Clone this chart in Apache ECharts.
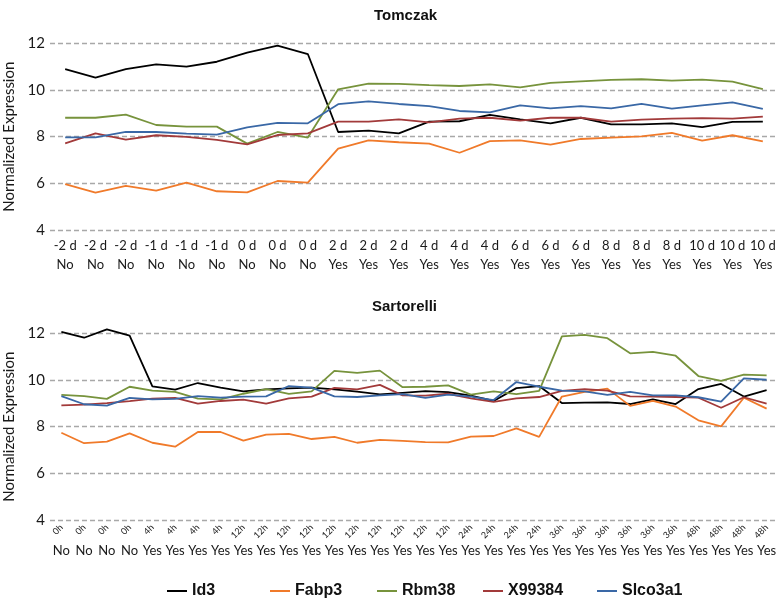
<!DOCTYPE html>
<html><head><meta charset="utf-8">
<script src="https://cdn.jsdelivr.net/npm/echarts@6/dist/echarts.min.js"></script>
<style>html,body{margin:0;padding:0;background:#fff}#c{width:778px;height:601px}</style>
</head><body><div id="c"></div>
<script>
const genes = ['Id3', 'Fabp3', 'Rbm38', 'X99384', 'Slco3a1'];
const geneColors = ['#000000', '#F07A2A', '#77933C', '#A23A3A', '#3A68A6'];

const tomczakTime = ['-2 d','-2 d','-2 d','-1 d','-1 d','-1 d','0 d','0 d','0 d','2 d','2 d','2 d','4 d','4 d','4 d','6 d','6 d','6 d','8 d','8 d','8 d','10 d','10 d','10 d'];
const tomczakTreated = ['No','No','No','No','No','No','No','No','No','Yes','Yes','Yes','Yes','Yes','Yes','Yes','Yes','Yes','Yes','Yes','Yes','Yes','Yes','Yes'];
const tomczakId3 = [10.89,10.53,10.89,11.10,11.00,11.21,11.60,11.90,11.54,8.20,8.26,8.14,8.64,8.66,8.93,8.74,8.57,8.81,8.53,8.53,8.57,8.41,8.63,8.64];
const tomczakFabp3 = [5.97,5.60,5.89,5.69,6.03,5.66,5.61,6.10,6.03,7.49,7.84,7.76,7.70,7.31,7.81,7.84,7.66,7.90,7.96,8.01,8.16,7.83,8.06,7.80];
const tomczakRbm38 = [8.81,8.81,8.94,8.50,8.43,8.43,7.70,8.20,7.96,10.03,10.27,10.26,10.21,10.17,10.24,10.11,10.30,10.37,10.43,10.46,10.40,10.44,10.36,10.04];
const tomczakX99384 = [7.71,8.14,7.87,8.06,7.99,7.86,7.67,8.07,8.14,8.64,8.64,8.74,8.61,8.77,8.81,8.69,8.81,8.81,8.64,8.73,8.77,8.79,8.77,8.86];
const tomczakSlco3a1 = [7.97,7.97,8.20,8.20,8.13,8.09,8.40,8.59,8.57,9.39,9.51,9.40,9.31,9.10,9.04,9.34,9.21,9.31,9.21,9.40,9.20,9.34,9.47,9.19];

const sartorelliTime = ['0h','0h','0h','0h','4h','4h','4h','4h','12h','12h','12h','12h','12h','12h','12h','12h','12h','12h','24h','24h','24h','24h','36h','36h','36h','36h','36h','36h','48h','48h','48h','48h'];
const sartorelliTreated = ['No','No','No','No','Yes','Yes','Yes','Yes','Yes','Yes','Yes','Yes','Yes','Yes','Yes','Yes','Yes','Yes','Yes','Yes','Yes','Yes','Yes','Yes','Yes','Yes','Yes','Yes','Yes','Yes','Yes','Yes'];
const sartorelliId3 = [12.06,11.81,12.17,11.90,9.73,9.59,9.87,9.67,9.51,9.60,9.64,9.67,9.60,9.50,9.38,9.45,9.52,9.48,9.33,9.10,9.65,9.74,9.01,9.03,9.04,8.97,9.17,8.97,9.61,9.83,9.29,9.57];
const sartorelliFabp3 = [7.74,7.29,7.36,7.71,7.31,7.14,7.77,7.77,7.40,7.66,7.69,7.47,7.56,7.31,7.43,7.39,7.34,7.33,7.57,7.60,7.93,7.56,9.29,9.49,9.63,8.89,9.10,8.86,8.27,8.01,9.24,8.77];
const sartorelliRbm38 = [9.36,9.31,9.19,9.71,9.54,9.49,9.20,9.17,9.41,9.61,9.40,9.51,10.39,10.30,10.40,9.69,9.71,9.77,9.37,9.51,9.39,9.53,11.87,11.93,11.79,11.14,11.20,11.04,10.17,9.96,10.23,10.20];
const sartorelliX99384 = [8.91,8.94,9.01,9.09,9.20,9.23,8.99,9.10,9.16,8.99,9.21,9.29,9.66,9.60,9.79,9.34,9.33,9.41,9.21,9.06,9.21,9.27,9.53,9.61,9.54,9.30,9.29,9.27,9.24,8.81,9.26,8.99];
const sartorelliSlco3a1 = [9.31,8.96,8.90,9.23,9.17,9.19,9.31,9.24,9.29,9.30,9.74,9.67,9.30,9.27,9.34,9.39,9.23,9.37,9.29,9.14,9.91,9.71,9.54,9.51,9.36,9.49,9.34,9.34,9.26,9.07,10.07,10.01];

const yTicks = {min: 4, max: 12, interval: 2};
const panelTitles = ['Tomczak', 'Sartorelli'];
const yName = 'Normalized Expression';

const tomczakSeries = [tomczakId3, tomczakFabp3, tomczakRbm38, tomczakX99384, tomczakSlco3a1];
const sartorelliSeries = [sartorelliId3, sartorelliFabp3, sartorelliRbm38, sartorelliX99384, sartorelliSlco3a1];

const axisFont = 'Lato, "Open Sans", sans-serif';
const textColor = '#1a1a1a';

function yAxis(gridIndex) {
  return {
    type: 'value', gridIndex,
    min: yTicks.min, max: yTicks.max, interval: yTicks.interval,
    name: yName, nameLocation: 'middle', nameGap: 30,
    nameTextStyle: {fontFamily: axisFont, fontSize: 15, color: textColor},
    axisLine: {show: false}, axisTick: {show: false},
    axisLabel: {fontFamily: axisFont, fontSize: 15, color: textColor, margin: 5},
    splitLine: {show: true, lineStyle: {color: '#A8A8A8', width: 1.3, type: [5, 3]}}
  };
}

const series = [];
genes.forEach((g, k) => {
  series.push({name: g, type: 'line', xAxisIndex: 0, yAxisIndex: 0, data: tomczakSeries[k], clip: false,
    symbol: 'none', smooth: false, color: geneColors[k], lineStyle: {width: 1.8, color: geneColors[k]}});
});
genes.forEach((g, k) => {
  series.push({name: g, type: 'line', xAxisIndex: 1, yAxisIndex: 1, data: sartorelliSeries[k], clip: false,
    symbol: 'none', smooth: false, color: geneColors[k], lineStyle: {width: 1.8, color: geneColors[k]}});
});

const legendLefts = [162, 265, 372, 478, 592];
const legends = genes.map((g, k) => ({
  data: [g], left: legendLefts[k], top: 578, orient: 'horizontal',
  icon: 'rect', itemWidth: 20, itemHeight: 2, selectedMode: false,
  textStyle: {fontFamily: '"Liberation Sans", Arial, sans-serif', fontWeight: 'bold', fontSize: 16, color: '#111'}
}));

const option = {
  backgroundColor: '#fff',
  animation: false,
  title: [
    {text: panelTitles[0], left: 369, top: 3, textStyle: {fontFamily: '"Liberation Sans", Arial, sans-serif', fontWeight: 'bold', fontSize: 15, color: '#111'}},
    {text: panelTitles[1], left: 367, top: 294, textStyle: {fontFamily: '"Liberation Sans", Arial, sans-serif', fontWeight: 'bold', fontSize: 15, color: '#111'}}
  ],
  legend: legends,
  grid: [
    {left: 50, width: 728, top: 43.3, height: 186.7, containLabel: false, outerBoundsMode: 'none'},
    {left: 50, width: 728, top: 333.3, height: 186.7, containLabel: false, outerBoundsMode: 'none'}
  ],
  xAxis: [
    {type: 'category', gridIndex: 0, data: tomczakTime, boundaryGap: true,
      axisLine: {show: false}, axisTick: {show: false}, splitLine: {show: false},
      axisLabel: {interval: 0, margin: 6, fontFamily: axisFont, fontSize: 13, color: textColor, lineHeight: 19,
        formatter: (v, i) => tomczakTime[i] + '\n' + tomczakTreated[i]}},
    {type: 'category', gridIndex: 1, data: sartorelliTime, boundaryGap: true,
      axisLine: {show: false}, axisTick: {show: false}, splitLine: {show: false},
      axisLabel: {interval: 0, margin: 6, rotate: 45, fontFamily: axisFont, fontSize: 9, color: textColor}},
    {type: 'category', gridIndex: 1, data: sartorelliTreated, boundaryGap: true, position: 'bottom',
      axisLine: {show: false}, axisTick: {show: false}, splitLine: {show: false},
      axisLabel: {interval: 0, margin: 24, fontFamily: axisFont, fontSize: 13, color: textColor}}
  ],
  yAxis: [yAxis(0), yAxis(1)],
  series
};

const chart = echarts.init(document.getElementById('c'), null, {renderer: 'canvas'});
chart.setOption(option);
</script>
</body></html>
